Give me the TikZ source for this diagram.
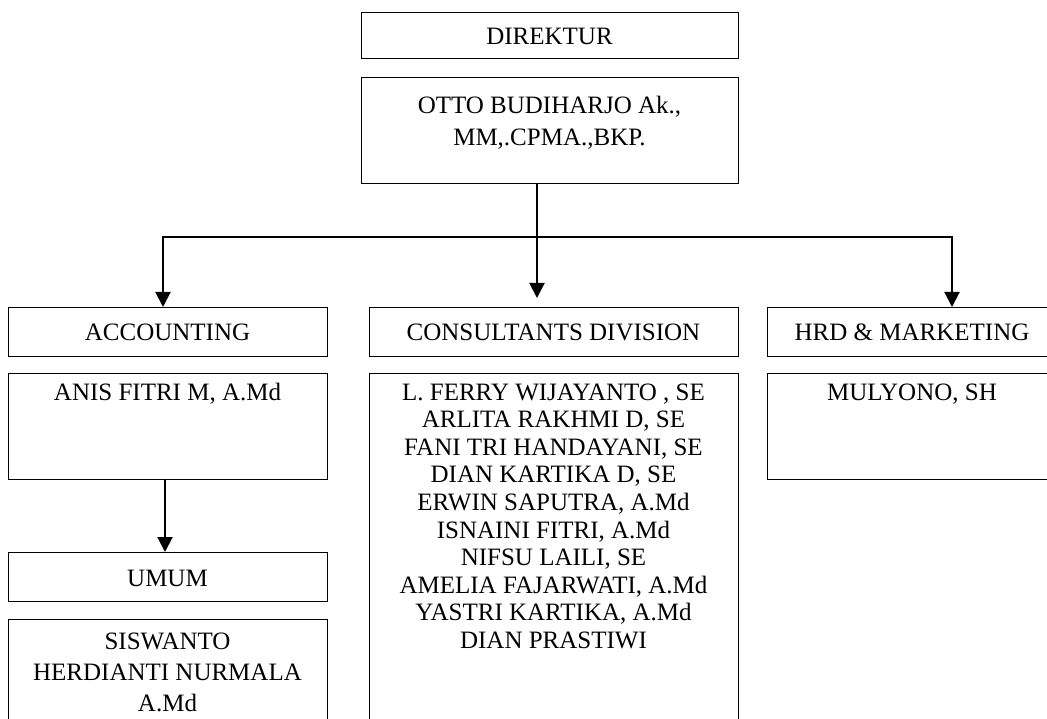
\documentclass[tikz,border=0pt]{standalone}
\usepackage{fontspec}
\setmainfont{Liberation Serif}
\usetikzlibrary{arrows.meta}
\begin{document}
\begin{tikzpicture}[x=1pt,y=-1pt,
  box/.style={draw, line width=1.3pt, rectangle, anchor=north west, inner sep=0pt},
  txt/.style={anchor=base, inner sep=0pt, font=\fontsize{25}{29}\selectfont},
  arr/.style={line width=2pt, -{Triangle[length=15pt,width=15pt]}},
  link/.style={line width=1.3pt, line cap=rect}]
\useasboundingbox (0,0) rectangle (1047,719);
\clip (0,0) rectangle (1047,719);
% boxes
\node[box, minimum width=377pt, minimum height=46pt]  (dir)  at (361,12)  {};
\node[box, minimum width=377pt, minimum height=106pt] (otto) at (361,77)  {};
\node[box, minimum width=319pt, minimum height=49pt]  (acc)  at (8,307)   {};
\node[box, minimum width=369pt, minimum height=49pt]  (cons) at (369,307) {};
\node[box, minimum width=290pt, minimum height=49pt]  (hrd)  at (767,307) {};
\node[box, minimum width=319pt, minimum height=106pt] (anis) at (8,373)   {};
\node[box, minimum width=369pt, minimum height=380pt] (consl) at (369,373) {};
\node[box, minimum width=290pt, minimum height=106pt] (mul)  at (767,373) {};
\node[box, minimum width=319pt, minimum height=49pt]  (umum) at (8,552)   {};
\node[box, minimum width=319pt, minimum height=130pt] (sis)  at (8,619)   {};
% texts
\node[txt] (tdir) at (549.5,45) {DIREKTUR};
\node[txt] (totto1) at (549.5,114) {OTTO BUDIHARJO Ak.,};
\node[txt] (totto2) at (549.5,146) {MM,.CPMA.,BKP.};
\node[txt] (tacc) at (167.5,341) {ACCOUNTING};
\node[txt] (tcons) at (553.5,341) {CONSULTANTS DIVISION};
\node[txt] (thrd) at (912,341) {HRD \& MARKETING};
\node[txt] (tanis) at (167.5,400) {ANIS FITRI M, A.Md};
\node[txt] (tmul) at (912,400) {MULYONO, SH};
\node[txt] (tumum) at (167.5,586) {UMUM};
\node[txt] (tsis1) at (167.5,649) {SISWANTO};
\node[txt] (tsis2) at (167.5,680) {HERDIANTI NURMALA};
\node[txt] (tsis3) at (167.5,711) {A.Md};
\foreach \t [count=\i] in {{L. FERRY WIJAYANTO , SE},{ARLITA RAKHMI D, SE},{FANI TRI HANDAYANI, SE},{DIAN KARTIKA D, SE},{ERWIN SAPUTRA, A.Md},{ISNAINI FITRI, A.Md},{NIFSU LAILI, SE},{AMELIA FAJARWATI, A.Md},{YASTRI KARTIKA, A.Md},{DIAN PRASTIWI}}
  \node[txt] (tc\i) at (553.5,{400+(\i-1)*27.6}) {\t};
% connectors
\coordinate (ctip) at (537,298);
\coordinate (hl) at (163,237);
\coordinate (hr) at (952,237);
\coordinate (ua) at (165,0);
\draw[link] (hl) -- (hr);
\draw[arr] (ctip |- otto.south) -- (ctip);
\draw[arr] (hl) -- (hl |- acc.north);
\draw[arr] (hr) -- (hr |- hrd.north);
\draw[arr] (ua |- anis.south) -- (ua |- umum.north);
\end{tikzpicture}
\end{document}
